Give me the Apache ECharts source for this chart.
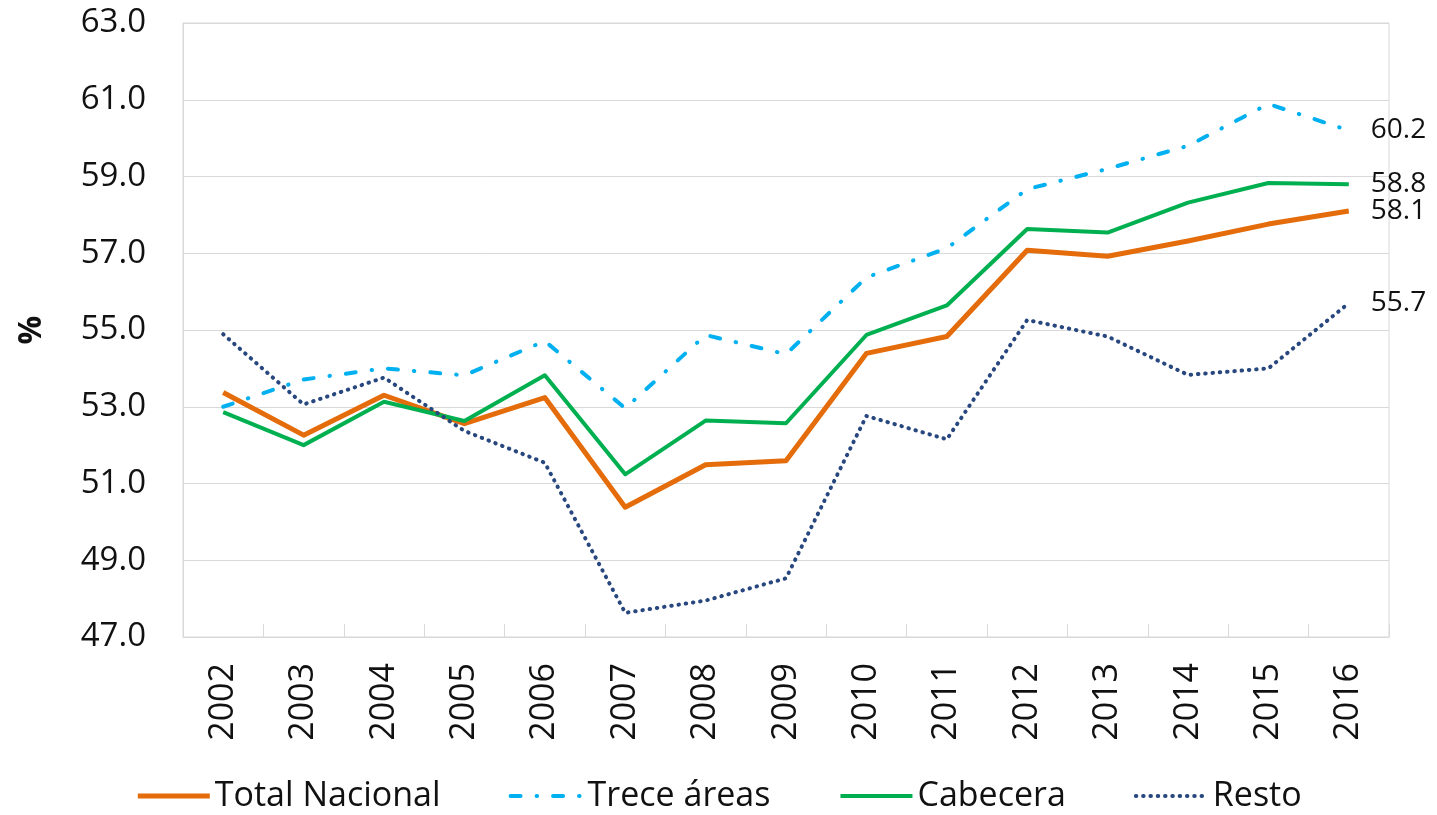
<!DOCTYPE html>
<html>
<head>
<meta charset="utf-8">
<script src="https://cdn.jsdelivr.net/npm/echarts@6/dist/echarts.min.js"></script>
<style>
html,body{margin:0;padding:0;background:#fff;}
#chart{width:1437px;height:815px;}
</style>
</head>
<body>
<div id="chart"></div>
<script>
const years = ['2002','2003','2004','2005','2006','2007','2008','2009','2010','2011','2012','2013','2014','2015','2016'];
const totalNacional = [53.37, 52.26, 53.30, 52.56, 53.24, 50.38, 51.49, 51.59, 54.39, 54.83, 57.08, 56.92, 57.32, 57.76, 58.1];
const treceAreas   = [53.00, 53.71, 54.00, 53.82, 54.71, 52.96, 54.87, 54.37, 56.37, 57.13, 58.67, 59.20, 59.80, 60.89, 60.2];
const cabecera     = [52.86, 52.00, 53.13, 52.63, 53.82, 51.24, 52.64, 52.57, 54.87, 55.64, 57.63, 57.54, 58.32, 58.83, 58.8];
const resto        = [54.89, 53.06, 53.76, 52.37, 51.54, 47.63, 47.95, 48.53, 52.76, 52.15, 55.26, 54.83, 53.83, 54.00, 55.7];
const yTicks = [47, 49, 51, 53, 55, 57, 59, 61, 63];
const seriesNames = ['Total Nacional', 'Trece áreas', 'Cabecera', 'Resto'];

const FONT = '"Open Sans", "Noto Sans", sans-serif';
const chart = echarts.init(document.getElementById('chart'), null, {renderer: 'canvas'});

const endLabel = {
  show: true,
  formatter: p => Number(p.value).toFixed(1),
  distance: 22,
  fontFamily: FONT,
  fontSize: 28,
  color: '#111'
};

const styles = [
  {color: '#E46C0A', width: 5, type: 'solid', cap: 'butt'},
  {color: '#00B0F0', width: 4, type: [10, 16, 0.5, 16], cap: 'round'},
  {color: '#00B050', width: 4, type: 'solid', cap: 'butt'},
  {color: '#27477E', width: 4, type: [0.5, 6.8], cap: 'round'}
];

function mk(i, data) {
  const s = styles[i];
  return {
    name: seriesNames[i],
    type: 'line',
    data: data,
    symbol: 'none',
    showSymbol: false,
    smooth: false,
    animation: false,
    lineStyle: {color: s.color, width: s.width, type: s.type, cap: s.cap, join: 'round'},
    itemStyle: {color: s.color},
    endLabel: endLabel,
    emphasis: {disabled: true}
  };
}

chart.setOption({
  animation: false,
  backgroundColor: '#fff',
  grid: {
    left: 183, right: 48, top: 23, bottom: 178,
    containLabel: false,
    outerBoundsMode: 'none',
    show: true,
    borderColor: '#D9D9D9',
    borderWidth: 1
  },
  legend: {
    data: seriesNames.map((n, i) => ({
      name: n,
      lineStyle: {width: styles[i].width, type: styles[i].type, cap: styles[i].cap, color: styles[i].color}
    })),
    left: 'center',
    top: 776,
    padding: 0,
    itemWidth: 72,
    itemHeight: 14,
    itemGap: 68,
    itemStyle: {opacity: 0, borderWidth: 0},
    textStyle: {fontFamily: FONT, fontSize: 34, color: '#111', lineHeight: 40}
  },
  xAxis: {
    type: 'category',
    data: years,
    boundaryGap: true,
    axisLine: {show: true, lineStyle: {color: '#D9D9D9', width: 1}},
    axisTick: {show: true, inside: true, length: 13, lineStyle: {color: '#D9D9D9'}},
    axisLabel: {
      rotate: 90,
      margin: 26,
      fontFamily: FONT,
      fontSize: 34,
      color: '#111',
      interval: 0
    },
    splitLine: {show: false}
  },
  yAxis: {
    type: 'value',
    min: 47,
    max: 63,
    name: '%',
    nameLocation: 'middle',
    nameGap: 135,
    nameTextStyle: {fontFamily: FONT, fontSize: 32, fontWeight: 'bold', color: '#111'},
    axisLine: {show: true, lineStyle: {color: '#D9D9D9'}},
    axisTick: {show: false, customValues: yTicks},
    axisLabel: {
      customValues: yTicks,
      formatter: v => Number(v).toFixed(1),
      margin: 37,
      fontFamily: FONT,
      fontSize: 33,
      color: '#111'
    },
    splitLine: {show: true, lineStyle: {color: '#D9D9D9', width: 1}}
  },
  series: [
    mk(0, totalNacional),
    mk(1, treceAreas),
    mk(2, cabecera),
    mk(3, resto)
  ]
});
</script>
</body>
</html>
